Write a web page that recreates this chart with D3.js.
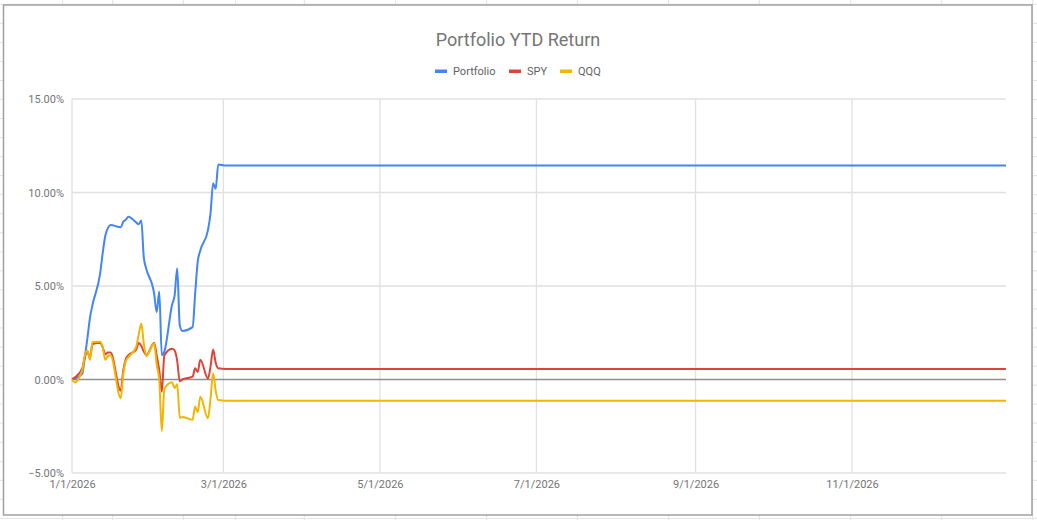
<!DOCTYPE html>
<html><head><meta charset="utf-8">
<script src="https://cdn.jsdelivr.net/npm/d3@7"></script>
<style>
html,body{margin:0;padding:0;background:#fff;}
svg{display:block;font-family:Roboto,"Noto Sans",Arial,sans-serif;}
</style></head>
<body>
<svg id="c" width="1037" height="520"></svg>
<script>
// ---- data ----
const dates = ["2026-01-01","2026-01-02","2026-01-05","2026-01-06","2026-01-07","2026-01-08","2026-01-09",
"2026-01-12","2026-01-13","2026-01-14","2026-01-15","2026-01-16","2026-01-20","2026-01-21","2026-01-22","2026-01-23",
"2026-01-26","2026-01-27","2026-01-28","2026-01-29","2026-01-30","2026-02-02","2026-02-03","2026-02-04","2026-02-05","2026-02-06",
"2026-02-09","2026-02-10","2026-02-11","2026-02-12","2026-02-13","2026-02-17","2026-02-18","2026-02-19","2026-02-20",
"2026-02-23","2026-02-24","2026-02-25","2026-02-26","2026-02-27","2026-03-02","2026-12-31"];
const portfolio = [0,0.05,0.3,1.2,2.2,3.3,4.0, 5.7,6.8,7.7,8.1,8.26,8.14,8.44,8.55,8.7, 8.4,8.3,8.5,6.5,5.9,4.6,3.6,4.7,1.3,1.5,
4.0,4.5,5.95,2.9,2.6,2.8,4.6,6.3,6.9, 8.0,8.9,10.5,10.2,11.5,11.44,11.44];
const spy = [0,0.1,0.6,1.2,1.5,1.15,1.9, 1.97,1.7,1.35,1.45,1.45,-0.6,0.5,1.1,1.3, 1.6,1.95,1.8,1.5,1.3,1.97,1.3,0.5,-0.65,1.3,
1.65,1.55,1.0,-0.1,0.0,0.15,0.6,0.4,1.05, 0.05,0.7,1.6,0.9,0.6,0.56,0.56];
const qqq = [0,-0.15,0.5,1.3,1.55,1.05,2.0, 2.02,1.7,1.05,1.25,1.3,-1.0,0.3,1.0,1.2, 1.75,2.4,3.0,1.9,1.25,1.94,0.8,0.0,-2.75,-0.5,
-0.15,-0.45,-0.25,-2.05,-2.0,-2.15,-1.45,-1.75,-0.92, -2.07,-1.0,0.33,-0.6,-1.1,-1.13,-1.13];
const seriesNames = ["Portfolio","SPY","QQQ"];
const seriesColors = ["#4285f4","#db4437","#f4b400"];
const yTicks = [-5,0,5,10,15];
const xTickDates = ["2026-01-01","2026-03-01","2026-05-01","2026-07-01","2026-09-01","2026-11-01"];
const titleText = "Portfolio YTD Return";

// ---- drawing ----
const svg = d3.select("#c");
const W = 1037, H = 520;
const parse = d3.timeParse("%Y-%m-%d");

// spreadsheet cell grid behind the chart
const colX = [62.7,112.7,183.3,235.7,304.3,395.7,486.7,577.3,668.7,759.3,850.7,941.7,1032.7];
const rowY = d3.range(0,28).map(k => 4.3 + 19.04*k);
const sheet = svg.append("g");
colX.forEach(x => sheet.append("line").attr("x1",x).attr("x2",x).attr("y1",0).attr("y2",H).attr("stroke","#e2e2e2").attr("stroke-width",1));
rowY.forEach(y => sheet.append("line").attr("x1",0).attr("x2",W).attr("y1",y).attr("y2",y).attr("stroke","#e2e2e2").attr("stroke-width",1));

// chart frame
svg.append("rect").attr("x",3.5).attr("y",5).attr("width",1028.5).attr("height",510)
  .attr("fill","#fff").attr("stroke","#a0a0a0").attr("stroke-width",1.5);

const x = d3.scaleTime().domain([parse("2026-01-01"), parse("2026-12-31")]).range([72, 1006]);
const y = d3.scaleLinear().domain([-5, 15]).range([473, 99]);

// horizontal gridlines
const gy = svg.append("g");
gy.selectAll("line").data(yTicks.filter(v => v !== 0)).join("line")
  .attr("x1",72).attr("x2",1006).attr("y1",d=>y(d)).attr("y2",d=>y(d))
  .attr("stroke","#e0e0e0").attr("stroke-width",1.3);
// vertical gridlines
svg.append("g").selectAll("line").data(xTickDates).join("line")
  .attr("x1",d=>x(parse(d))).attr("x2",d=>x(parse(d))).attr("y1",99).attr("y2",473)
  .attr("stroke","#e0e0e0").attr("stroke-width",1.3);
// zero line
svg.append("line").attr("x1",72).attr("x2",1006).attr("y1",y(0)).attr("y2",y(0))
  .attr("stroke","#8f8f8f").attr("stroke-width",1.5);

// y axis labels
const yAxis = d3.axisLeft(y).tickValues(yTicks).tickSize(0).tickPadding(8)
  .tickFormat(d => d3.format(".2f")(d) + "%");
const ya = svg.append("g").attr("transform","translate(72,0)").call(yAxis);
ya.select(".domain").remove();
ya.selectAll("text").attr("fill","#757575").style("font-size","11px").style("font-family","Roboto");

// x axis labels
const xAxis = d3.axisBottom(x).tickValues(xTickDates.map(parse)).tickSize(0).tickPadding(7)
  .tickFormat(d3.timeFormat("%-m/%-d/%Y"));
const xa = svg.append("g").attr("transform","translate(0,473)").call(xAxis);
xa.select(".domain").remove();
xa.selectAll("text").attr("fill","#757575").style("font-size","11px").style("font-family","Roboto");

// lines
const allSeries = [portfolio, spy, qqq];
const line = d3.line().x((d,i)=>x(parse(dates[i]))).y(d=>y(d)).curve(d3.curveMonotoneX);
// draw QQQ first? order: portfolio, spy, qqq (qqq on top)
allSeries.forEach((s,k) => {
  svg.append("path").datum(s).attr("d", line).attr("fill","none")
    .attr("stroke", seriesColors[k]).attr("stroke-width",2).attr("stroke-linejoin","round");
});

// title
svg.append("text").attr("x",518).attr("y",46).attr("text-anchor","middle")
  .attr("fill","#757575").style("font-size","18px").style("font-family","Roboto").text(titleText);

// legend
const legX = [435, 509, 560];
const lg = svg.append("g");
seriesNames.forEach((n,k) => {
  lg.append("rect").attr("x",legX[k]).attr("y",69.5).attr("width",12).attr("height",3.5).attr("fill",seriesColors[k]);
  lg.append("text").attr("x",legX[k]+18).attr("y",75).attr("fill","#5f5f5f")
    .style("font-size","11px").style("font-family","Roboto").text(n);
});
</script>
</body></html>
